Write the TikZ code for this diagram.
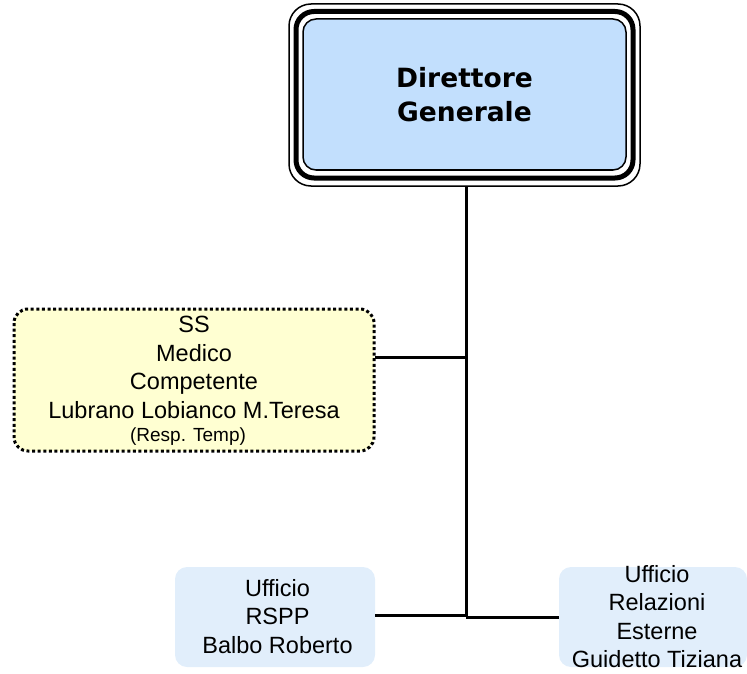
\documentclass[tikz,border=0pt]{standalone}
\usepackage{fontspec}
\setmainfont{Liberation Sans}
\newfontfamily\dejabold[BoldFont={DejaVu Sans Bold}]{DejaVu Sans}
\definecolor{dgblue}{HTML}{C2DFFD}
\definecolor{ssyellow}{HTML}{FFFFD2}
\definecolor{uffblue}{HTML}{E1EEFB}
\tikzset{
  x=1pt,y=-1pt,
  ufftext/.style={font=\fontsize{23.5}{28.3}\selectfont, align=center, inner sep=0pt},
  link/.style={line width=3pt}
}
\begin{document}
\begin{tikzpicture}
\useasboundingbox (0,0) rectangle (747,674);
% Direttore Generale box
\draw[line width=1.5pt, rounded corners=22pt] (289,4) rectangle (640,186);
\draw[line width=5pt, rounded corners=18pt] (296,11.5) rectangle (633,178);
\draw[line width=1.5pt, fill=dgblue, rounded corners=13pt] (303,19) rectangle (626,170);
\node[font=\dejabold\bfseries\fontsize{26.5}{34}\selectfont, align=center, inner sep=0pt] (dg) at (464.5,95) {Direttore\\Generale};
\coordinate (dgb) at (466,186);
% SS box
\draw[fill=ssyellow, line width=3pt, dash pattern=on 3pt off 2.6pt, rounded corners=14pt] (14,309) rectangle (374,451);
\node[ufftext, font=\fontsize{23.5}{28.8}\selectfont] (ss) at (194,367.5) {SS\\Medico\\Competente\\Lubrano Lobianco M.Teresa};
\node[anchor=base, inner sep=0pt, font=\fontsize{19}{22}\selectfont] (resp) at (188,441) {(Resp. Temp)};
\coordinate (ssr) at (375,357);
% RSPP box
\fill[uffblue, rounded corners=12pt] (175,567) rectangle (375,667);
\node[ufftext] (rspp) at (277.5,616.5) {Ufficio\\RSPP\\Balbo Roberto};
\coordinate (rsppr) at (375,615.5);
% Relazioni Esterne box
\fill[uffblue, rounded corners=12pt] (559,567) rectangle (747,667);
\node[ufftext] (rel) at (657,616.5) {Ufficio\\Relazioni\\Esterne\\Guidetto Tiziana};
\coordinate (rell) at (559,617);
% connectors
\coordinate (j1) at (466,357);
\coordinate (j2) at (466,615.5);
\coordinate (j3) at (466,617);
\draw[link] (dgb) -- (j3);
\draw[link] (ssr) -- (j1);
\draw[link] (rsppr) -- (j2);
\draw[link] (j3) -- (rell);
\end{tikzpicture}
\end{document}
